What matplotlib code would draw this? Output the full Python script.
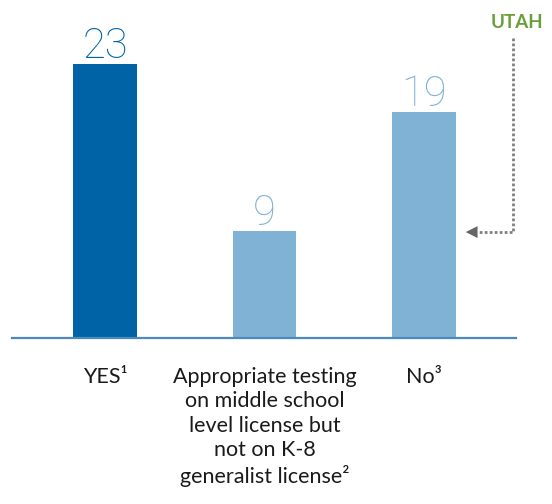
import matplotlib.pyplot as plt

categories = [
    "YES\u00b9",
    "Appropriate testing\non middle school\nlevel license but\nnot on K-8\ngeneralist license\u00b2",
    "No\u00b3",
]
values = [23, 9, 19]
bar_colors = ["#0063a6", "#7fb2d5", "#7fb2d5"]

plt.rcParams["font.family"] = ["Lato", "DejaVu Sans"]

fig = plt.figure(figsize=(5.52, 5.04), dpi=100)
# axes box: baseline at 338 px from top, spans x 12..516 px
ax = fig.add_axes([12 / 552, (504 - 338) / 504, 504 / 552, 338 / 504])

x = list(range(len(values)))
ax.bar(x, values, width=0.40, color=bar_colors, zorder=2)
ax.set_xlim(-0.583, 2.577)
ax.set_ylim(0, 28.4)

for xi, v, c in zip(x, values, bar_colors):
    ax.text(xi, v + 0.5, str(v), ha="center", va="baseline",
            fontsize=30, fontweight="light", color=c,
            family=["Roboto", "DejaVu Sans"])

for xi, lab in zip(x, categories):
    ax.text(xi, -2.45, lab, ha="center", va="top", fontsize=15.5,
            color="#1a1a1a", linespacing=1.27)

for s in ["top", "right", "left"]:
    ax.spines[s].set_visible(False)
ax.spines["bottom"].set_color("#4a8abf")
ax.spines["bottom"].set_linewidth(1.6)
ax.set_xticks([])
ax.set_yticks([])

# Utah callout
ax.text(2.583, 26.05, "UTAH", ha="center", va="baseline", fontsize=13.5,
        fontweight="bold", color="#6a9e3a", clip_on=False)
ax.plot([2.558, 2.558, 2.33], [25.2, 8.9, 8.9], color="#808080",
        linestyle=(0, (1, 0.8)), linewidth=2, clip_on=False)
ax.annotate("", xy=(2.262, 8.9), xytext=(2.34, 8.9),
            arrowprops=dict(arrowstyle="-|>,head_length=0.85,head_width=0.43",
                            color="#666666", lw=0, shrinkA=0, shrinkB=0),
            annotation_clip=False)

fig.savefig("out.png", dpi=100)
